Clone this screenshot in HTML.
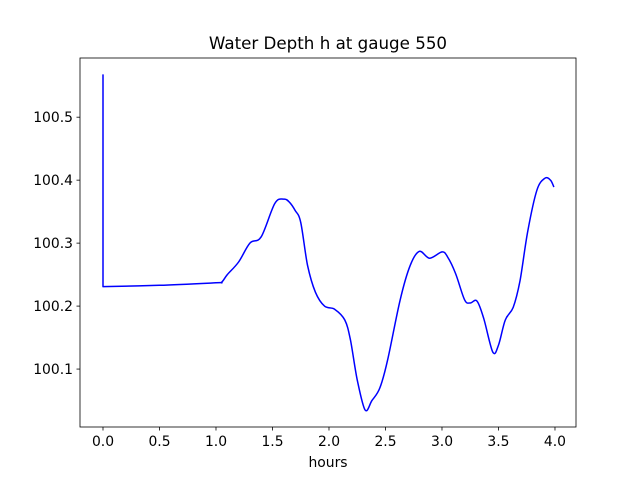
<!DOCTYPE html>
<html><head><meta charset="utf-8"><style>body{margin:0;background:#fff}svg{display:block;font-family:"DejaVu Sans","Liberation Sans",sans-serif}</style></head>
<body>
<svg id="c" width="640" height="480"></svg>
<script>
const times=[0,0,0.5,1.0,1.05,1.1,1.2,1.3,1.4,1.52,1.6,1.65,1.7,1.75,1.81,1.88,1.96,2.05,2.14,2.19,2.25,2.32,2.38,2.45,2.52,2.63,2.72,2.8,2.89,3.0,3.05,3.12,3.2,3.25,3.31,3.37,3.45,3.5,3.56,3.63,3.69,3.76,3.84,3.91,3.96,3.99];
const depths=[100.568,100.231,100.233,100.237,100.238,100.25,100.27,100.30,100.31,100.363,100.37,100.365,100.352,100.333,100.265,100.222,100.2,100.195,100.178,100.146,100.083,100.035,100.05,100.07,100.115,100.21,100.265,100.287,100.276,100.286,100.278,100.252,100.21,100.205,100.208,100.18,100.127,100.138,100.178,100.198,100.24,100.32,100.384,100.403,100.4,100.389];
const xTicks=[0,0.5,1,1.5,2,2.5,3,3.5,4];
const xTickLabels=["0.0","0.5","1.0","1.5","2.0","2.5","3.0","3.5","4.0"];
const yTicks=[100.1,100.2,100.3,100.4,100.5];
const yTickLabels=["100.1","100.2","100.3","100.4","100.5"];
const L=80,R=576,T=58,B=427,x0=-0.2035,x1=4.186,y0=100.008,y1=100.594;
const sx=v=>L+(v-x0)/(x1-x0)*(R-L), sy=v=>B-(v-y0)/(y1-y0)*(B-T);
const s=document.getElementById('c'),NS='http://www.w3.org/2000/svg';
function mk(t,a,txt){const e=document.createElementNS(NS,t);for(const k in a)e.setAttribute(k,a[k]);if(txt!=null)e.textContent=txt;s.appendChild(e);return e;}
const P=times.map((t,i)=>[sx(t),sy(depths[i])]);
let d='M'+P[0][0].toFixed(1)+','+P[0][1].toFixed(1)+'L'+P[1][0].toFixed(1)+','+P[1][1].toFixed(1);
for(let i=1;i<P.length-1;i++){
 const p0=P[Math.max(1,i-1)],p1=P[i],p2=P[i+1],p3=P[Math.min(P.length-1,i+2)];
 const c1=[p1[0]+(p2[0]-p0[0])/6,p1[1]+(p2[1]-p0[1])/6],c2=[p2[0]-(p3[0]-p1[0])/6,p2[1]-(p3[1]-p1[1])/6];
 d+='C'+c1.map(v=>v.toFixed(1)).join(',')+' '+c2.map(v=>v.toFixed(1)).join(',')+' '+p2.map(v=>v.toFixed(1)).join(',');
}
let p=mk('path',{d:d,fill:'none',stroke:'#0000ff','stroke-width':1.5,'stroke-linejoin':'round'});

let f=mk('rect',{x:L,y:T,width:R-L,height:B-T,fill:'none',stroke:'#000','stroke-width':0.8});

xTicks.forEach((v,i)=>{const x=sx(v);mk('line',{x1:x,x2:x,y1:B,y2:B+3.5,stroke:'#000','stroke-width':0.8});
 let t=mk('text',{x:x,y:B+19,'text-anchor':'middle','font-size':13.9},xTickLabels[i]);
 });
yTicks.forEach((v,i)=>{const y=sy(v);mk('line',{x1:L,x2:L-3.5,y1:y,y2:y,stroke:'#000','stroke-width':0.8});
 let t=mk('text',{x:L-7,y:y+5,'text-anchor':'end','font-size':13.9},yTickLabels[i]);
 });
let xt=mk('text',{x:(L+R)/2,y:467,'text-anchor':'middle','font-size':13.9},'hours');

let tt=mk('text',{x:(L+R)/2,y:49,'text-anchor':'middle','font-size':16.7},'Water Depth h at gauge 550');

</script>
</body></html>
